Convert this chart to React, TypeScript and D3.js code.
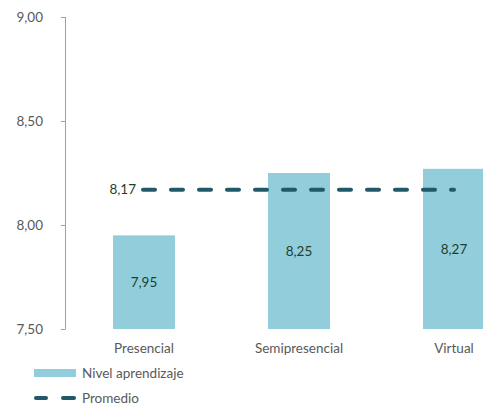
import React from "react";
import * as d3 from "d3";

const categories = ["Presencial", "Semipresencial", "Virtual"];
const nivelValues = [7.95, 8.25, 8.27];
const promedioValue = 8.17;
const yTicks = [7.5, 8.0, 8.5, 9.0];

const W = 483;
const H = 406;
const FONT = "Lato, 'Open Sans', sans-serif";
const FS = 13.5;

export default function App() {
  const y = d3.scaleLinear().domain([7.5, 9.0]).range([329, 17]);
  const x = d3.scaleBand<string>().domain(categories).range([66.5, 531.5]).paddingInner(0.6).paddingOuter(0.3);
  const fmt = (v: number) => v.toFixed(2).replace(".", ",");
  const bw = x.bandwidth();
  const cx = (c: string) => (x(c) as number) + bw / 2;
  const avgLine = d3.line<[number, number]>().x((d) => d[0]).y((d) => d[1]);
  const avgPts: [number, number][] = [
    [cx(categories[0]) - 1, y(promedioValue)],
    [cx(categories[categories.length - 1]), y(promedioValue)],
  ];

  return (
    <svg width={W} height={H} style={{ position: "absolute", left: 0, top: 0, background: "#fff" }} fontFamily={FONT}>
      {/* y axis */}
      <line x1={65.5} x2={65.5} y1={y(9.0)} y2={y(7.5)} stroke="#a3a38a" strokeWidth={1} />
      {yTicks.map((t) => (
        <g key={t}>
          <line x1={61} x2={65.5} y1={Math.round(y(t)) + 0.5} y2={Math.round(y(t)) + 0.5} stroke="#a3a38a" strokeWidth={1} />
          <text x={43} y={y(t)} dy="0.35em" textAnchor="end" fontSize={FS} fill="#595959">
            {fmt(t)}
          </text>
        </g>
      ))}
      {/* bars */}
      {categories.map((c, i) => (
        <g key={c}>
          <rect x={x(c)} y={y(nivelValues[i])} width={bw} height={y(7.5) - y(nivelValues[i])} fill="#92cddc" />
          <text x={cx(c)} y={(y(nivelValues[i]) + y(7.5)) / 2} dy="0.35em" textAnchor="middle" fontSize={FS} fill="#1e3f2e">
            {fmt(nivelValues[i])}
          </text>
          <text x={cx(c)} y={348} dy="0.35em" textAnchor="middle" fontSize={FS} fill="#595959">
            {c}
          </text>
        </g>
      ))}
      {/* average line */}
      <path d={avgLine(avgPts) || ""} stroke="#215968" strokeWidth={4} strokeDasharray="12 16" strokeLinecap="round" fill="none" />
      <text x={136} y={y(promedioValue)} dy="0.35em" textAnchor="end" fontSize={FS} fill="#1e3f2e">
        {fmt(promedioValue)}
      </text>
      {/* legend */}
      <rect x={34} y={369} width={42} height={8} fill="#92cddc" />
      <text x={82} y={373} dy="0.35em" fontSize={FS} fill="#595959">Nivel aprendizaje</text>
      <line x1={36} x2={46} y1={398} y2={398} stroke="#215968" strokeWidth={4} strokeLinecap="round" />
      <line x1={63} x2={74} y1={398} y2={398} stroke="#215968" strokeWidth={4} strokeLinecap="round" />
      <text x={82} y={398} dy="0.35em" fontSize={FS} fill="#595959">Promedio</text>
    </svg>
  );
}
